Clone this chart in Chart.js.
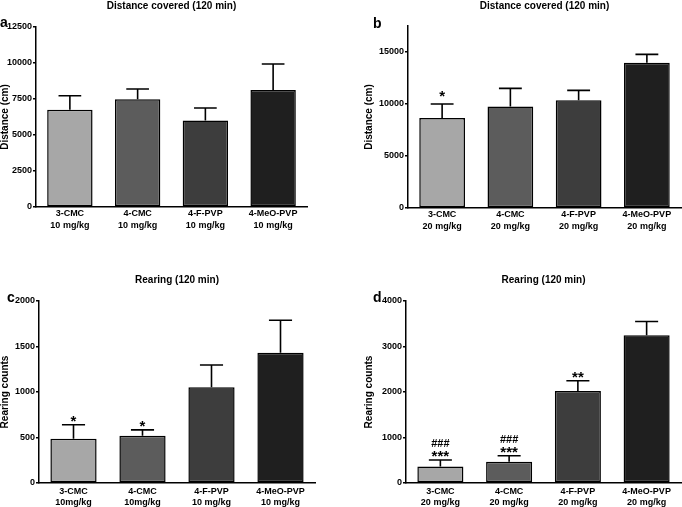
<!DOCTYPE html>
<html>
<head>
<meta charset="utf-8">
<script src="https://cdn.jsdelivr.net/npm/chart.js@4.4.1/dist/chart.umd.min.js"></script>
<style>
  body { margin: 0; background: #fff; }
  .panel { position: absolute; }
</style>
</head>
<body>
<div class="panel" style="left:0;top:0"><canvas id="chart-a" width="341" height="260"></canvas></div>
<div class="panel" style="left:341px;top:0"><canvas id="chart-b" width="341" height="260"></canvas></div>
<div class="panel" style="left:0;top:260px"><canvas id="chart-c" width="341" height="247"></canvas></div>
<div class="panel" style="left:341px;top:260px"><canvas id="chart-d" width="341" height="247"></canvas></div>
<script>
// categories
const groups = ['3-CMC', '4-CMC', '4-F-PVP', '4-MeO-PVP'];
const doseA = ['10 mg/kg', '10 mg/kg', '10 mg/kg', '10 mg/kg'];
const doseB = ['20 mg/kg', '20 mg/kg', '20 mg/kg', '20 mg/kg'];
const doseC = ['10mg/kg', '10mg/kg', '10 mg/kg', '10 mg/kg'];
const doseD = ['20 mg/kg', '20 mg/kg', '20 mg/kg', '20 mg/kg'];

// means and SEM
const distance10 = [6760, 7480, 6000, 8120];
const distance10Sem = [970, 710, 870, 1810];
const distance20 = [8650, 9770, 10350, 13970];
const distance20Sem = [1350, 1730, 960, 800];
const rearing10 = [485, 518, 1051, 1431];
const rearing10Sem = [155, 66, 245, 357];
const rearing20 = [365, 467, 2022, 3248];
const rearing20Sem = [140, 132, 226, 300];

// significance marks (lines top to bottom)
const notesA = [[], [], [], []];
const notesB = [['*'], [], [], []];
const notesC = [['*'], ['*'], [], []];
const notesD = [['###', '***'], ['###', '***'], ['**'], []];

// y ticks
const ticksA = [0, 2500, 5000, 7500, 10000, 12500];
const ticksB = [0, 5000, 10000, 15000];
const ticksC = [0, 500, 1000, 1500, 2000];
const ticksD = [0, 1000, 2000, 3000, 4000];

const barColors = ['#a7a7a7', '#5c5c5c', '#3d3d3d', '#1f1f1f'];
const FONT = '"Liberation Sans", Arial, sans-serif';
Chart.defaults.font.family = FONT;
Chart.defaults.color = '#000';

// error bars, stars and panel letter
const barExtras = {
    id: 'barExtras',
    afterDatasetsDraw(chart, args, opts) {
        const ctx = chart.ctx;
        const y = chart.scales.y;
        const values = chart.data.datasets[0].data;
        ctx.save();
        ctx.strokeStyle = '#000';
        ctx.lineWidth = 1.6;
        chart.getDatasetMeta(0).data.forEach((bar, i) => {
            const top = y.getPixelForValue(values[i] + opts.errors[i]);
            const half = bar.width / 4;
            ctx.beginPath();
            ctx.moveTo(bar.x, bar.y);
            ctx.lineTo(bar.x, top);
            ctx.moveTo(bar.x - half, top);
            ctx.lineTo(bar.x + half, top);
            ctx.stroke();

            const lines = opts.notes[i];
            ctx.fillStyle = '#000';
            ctx.textAlign = 'center';
            ctx.textBaseline = 'alphabetic';
            let base = top + 1 - opts.noteLift;
            for (let k = lines.length - 1; k >= 0; k--) {
                const txt = lines[k];
                ctx.font = txt.includes('#') ? 'bold 11px ' + FONT : 'bold 15px ' + FONT;
                ctx.fillText(txt, bar.x, base);
                base -= 14;
            }
        });
        ctx.font = 'bold 14px ' + FONT;
        ctx.textAlign = 'left';
        ctx.textBaseline = 'alphabetic';
        ctx.fillText(opts.letter, opts.letterX, opts.letterY);
        ctx.restore();
    }
};

function makePanel(id, p) {
    const labels = groups.map((g, i) => [g, p.dose[i]]);
    return new Chart(document.getElementById(id), {
        type: 'bar',
        data: {
            labels: labels,
            datasets: [{
                data: p.values,
                backgroundColor: barColors,
                borderColor: '#000',
                borderWidth: 1.5,
                borderSkipped: false,
                barPercentage: 0.67,
                categoryPercentage: 1
            }]
        },
        options: {
            responsive: false,
            animation: false,
            layout: { padding: { left: p.padLeft, right: p.padRight, top: 0, bottom: 0 } },
            plugins: {
                legend: { display: false },
                tooltip: { enabled: false },
                title: {
                    display: true,
                    text: p.title,
                    fullSize: false,
                    font: { size: 10, weight: 'bold', lineHeight: 1.2 },
                    padding: { top: p.titleTop, bottom: p.titleBottom }
                },
                barExtras: {
                    errors: p.errors,
                    notes: p.notes,
                    noteLift: p.noteLift,
                    letter: p.letter,
                    letterX: p.letterX,
                    letterY: p.letterY
                }
            },
            scales: {
                x: {
                    grid: { display: false, drawTicks: false, tickLength: 0 },
                    border: { color: '#000', width: 1.5 },
                    ticks: {
                        padding: p.xPad,
                        maxRotation: 0,
                        autoSkip: false,
                        font: { size: 9, weight: 'bold', lineHeight: p.xLine }
                    },
                    afterFit: s => { s.height = p.xHeight; }
                },
                y: {
                    min: 0,
                    max: p.max,
                    border: { color: '#000', width: 1.5 },
                    grid: { drawOnChartArea: false, drawTicks: true, tickLength: 3, color: '#000', lineWidth: 1.5 },
                    ticks: { padding: 1, font: { size: 9, weight: 'bold' }, callback: v => String(v) },
                    afterBuildTicks: s => { s.ticks = p.ticks.map(v => ({ value: v })); },
                    afterFit: s => { s.width = p.yWidth; },
                    title: {
                        display: true,
                        text: p.yTitle,
                        padding: 0,
                        font: { size: 10, weight: 'bold', lineHeight: 1 }
                    }
                }
            }
        },
        plugins: [barExtras]
    });
}

makePanel('chart-a', {
    title: 'Distance covered (120 min)', yTitle: 'Distance (cm)', letter: 'a',
    dose: doseA, values: distance10, errors: distance10Sem, notes: notesA,
    ticks: ticksA, max: 12500, noteLift: 0,
    padLeft: 0, padRight: 34, yWidth: 36, xHeight: 53, xPad: 1, xLine: 1.3,
    titleTop: 0, titleBottom: 15, letterX: 0, letterY: 27
});
makePanel('chart-b', {
    title: 'Distance covered (120 min)', yTitle: 'Distance (cm)', letter: 'b',
    dose: doseB, values: distance20, errors: distance20Sem, notes: notesB,
    ticks: ticksB, max: 17500, noteLift: 4,
    padLeft: 23, padRight: 1, yWidth: 44, xHeight: 52, xPad: 1, xLine: 1.3,
    titleTop: 0, titleBottom: 14, letterX: 32, letterY: 28
});
makePanel('chart-c', {
    title: 'Rearing (120 min)', yTitle: 'Rearing counts', letter: 'c',
    dose: doseC, values: rearing10, errors: rearing10Sem, notes: notesC,
    ticks: ticksC, max: 2000, noteLift: 0,
    padLeft: 0, padRight: 26, yWidth: 39, xHeight: 24, xPad: 3, xLine: 1.2,
    titleTop: 14, titleBottom: 15, letterX: 7, letterY: 42
});
makePanel('chart-d', {
    title: 'Rearing (120 min)', yTitle: 'Rearing counts', letter: 'd',
    dose: doseD, values: rearing20, errors: rearing20Sem, notes: notesD,
    ticks: ticksD, max: 4000, noteLift: 0,
    padLeft: 23, padRight: 1, yWidth: 42, xHeight: 24, xPad: 3, xLine: 1.2,
    titleTop: 14, titleBottom: 15, letterX: 32, letterY: 42
});
</script>
</body>
</html>
